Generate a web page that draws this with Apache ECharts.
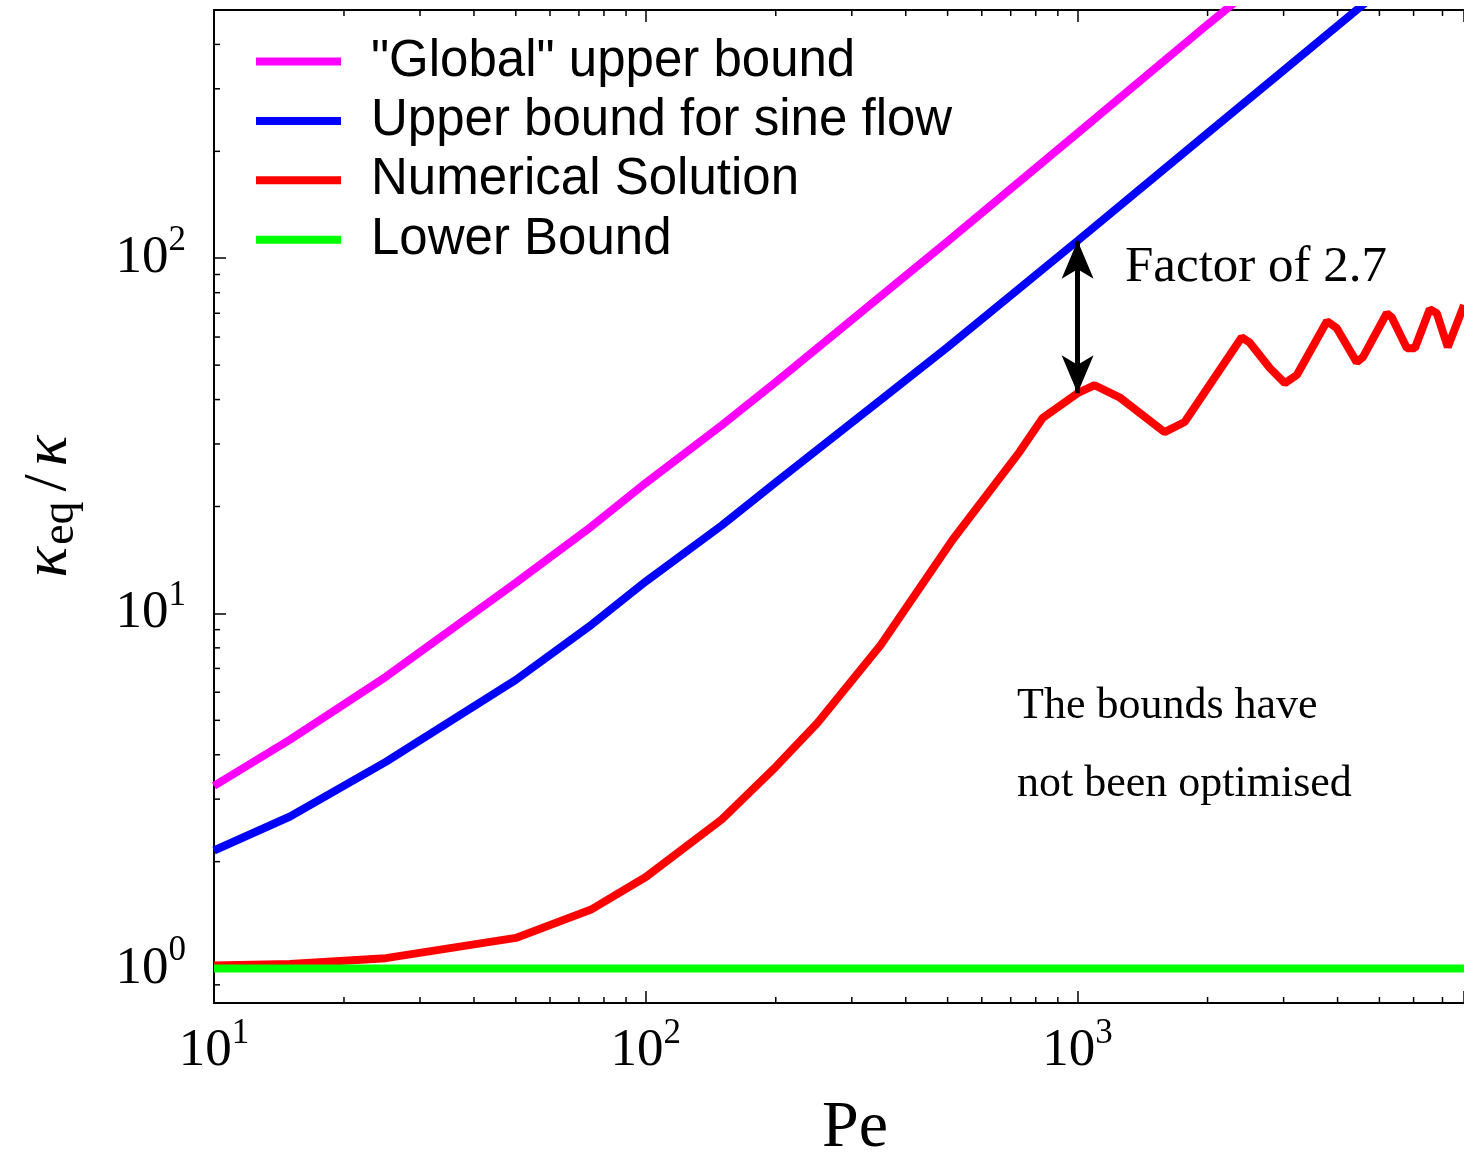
<!DOCTYPE html>
<html>
<head>
<meta charset="utf-8">
<script src="https://cdn.jsdelivr.net/npm/echarts@6/dist/echarts.min.js"></script>
<style>
    body { margin: 0; background: #fff; }
    #boundsChart { width: 1464px; height: 1155px; }
</style>
</head>
<body>
<div id="boundsChart"></div>
<script>
    // Pe values and kappa_eq/kappa
    const boundPe = [10, 15, 25, 50, 75, 100, 150, 200, 350, 500, 1000, 2000, 3000, 5000];
    const globalUpper = [3.27, 4.41, 6.63, 12.2, 17.6, 23.3, 33.9, 44.8, 78.2, 111.6, 225, 455, 680, 1100];
    const sineUpper = [2.15, 2.68, 3.82, 6.50, 9.31, 12.3, 17.7, 23.4, 39.9, 56.2, 112, 225, 338, 565];

    const numPe = [10, 15, 25, 50, 75, 100, 150, 200, 250, 350, 513, 734, 830, 1000, 1095, 1250, 1590, 1770,
        2400, 2500, 2790, 3020, 3220, 3780, 3980, 4430, 4580, 5200, 5340, 5790, 6040, 6540, 6790, 7200, 7850];
    const numerical = [1.02, 1.03, 1.07, 1.22, 1.47, 1.81, 2.63, 3.70, 4.92, 8.15, 16.1, 28.5, 35.5, 41.7, 43.9, 40.6, 32.4, 34.6,
        59.9, 58.0, 49.0, 44.5, 46.9, 66.5, 63.6, 51.0, 52.7, 70.0, 68.2, 55.8, 55.8, 71.9, 70.0, 56.2, 73.8];

    const lowerPe = [10, 7850];
    const lowerBound = [1, 1];

    // arrow marking the gap at Pe = 1000
    const factorPe = 1000;
    const factorTop = 112;
    const factorBottom = 41.7;

    const xRange = [10, 7850];
    const yRange = [0.8, 500];
    const xMinorTicks = [20, 30, 40, 50, 60, 70, 80, 90, 200, 300, 400, 500, 600, 700, 800, 900,
        2000, 3000, 4000, 5000, 6000, 7000];
    const yMinorTicks = [0.9, 2, 3, 4, 5, 6, 7, 8, 9, 20, 30, 40, 50, 60, 70, 80, 90, 200, 300, 400];

    const serif = '"Liberation Serif", "Times New Roman", serif';
    const sans = '"Liberation Sans", Arial, sans-serif';

    function zip(xs, ys) {
        return xs.map((x, i) => [x, ys[i]]);
    }

    let tickData = [];
    xMinorTicks.forEach(v => tickData.push([v, yRange[0], 0]));
    yMinorTicks.forEach(v => tickData.push([xRange[0], v, 1]));

    function powerLabel(value) {
        let e = Math.log10(value);
        let r = Math.round(e);
        if (Math.abs(e - r) > 1e-6) {
            return '';
        }
        return '{b|10}{s|' + r + '}';
    }

    const labelRich = {
        b: {fontFamily: serif, fontSize: 53, lineHeight: 70, color: '#000'},
        s: {fontFamily: serif, fontSize: 35, lineHeight: 34, verticalAlign: 'top', color: '#000'}
    };

    let myChart = echarts.init(document.getElementById('boundsChart'));

    let option = {
        animation: false,
        backgroundColor: '#fff',
        grid: {
            left: 214,
            right: 0,
            top: 10,
            bottom: 152,
            outerBoundsMode: 'none'
        },
        legend: {
            orient: 'vertical',
            left: 251,
            top: 31,
            icon: 'rect',
            itemWidth: 85,
            itemHeight: 8,
            itemGap: 8.4,
            data: ['"Global" upper bound', 'Upper bound for sine flow', 'Numerical Solution', 'Lower Bound'],
            textStyle: {
                fontFamily: sans,
                fontSize: 51,
                lineHeight: 50,
                color: '#000',
                padding: [0, 0, 0, 25]
            }
        },
        xAxis: [{
            type: 'log',
            logBase: 10,
            min: xRange[0],
            max: xRange[1],
            name: 'Pe',
            nameLocation: 'middle',
            nameGap: 93,
            nameTextStyle: {
                fontFamily: serif,
                fontSize: 66,
                color: '#000',
                padding: [0, 0, 0, 32]
            },
            axisLine: {show: true, lineStyle: {color: '#000', width: 2}},
            axisTick: {show: true, inside: true, length: 12, lineStyle: {color: '#000', width: 1.5}},
            axisLabel: {margin: 13, formatter: powerLabel, rich: labelRich},
            splitLine: {show: false}
        }, {
            type: 'log',
            logBase: 10,
            position: 'top',
            min: xRange[0],
            max: xRange[1],
            axisLine: {show: true, lineStyle: {color: '#000', width: 2}},
            axisTick: {show: true, inside: true, length: 12, lineStyle: {color: '#000', width: 1.5}},
            axisLabel: {show: false},
            splitLine: {show: false}
        }],
        yAxis: {
            type: 'log',
            logBase: 10,
            min: yRange[0],
            max: yRange[1],
            name: '{k|κ}{e|eq}{r|/}{k|κ}',
            nameLocation: 'middle',
            nameGap: 130,
            nameRotate: 90,
            nameTextStyle: {
                rich: {
                    k: {fontFamily: serif, fontStyle: 'italic', fontSize: 64, lineHeight: 70, color: '#000'},
                    e: {fontFamily: serif, fontSize: 46, lineHeight: 42, verticalAlign: 'bottom', color: '#000', padding: [0, 0, 0, 2]},
                    r: {fontFamily: serif, fontSize: 62, lineHeight: 70, color: '#000', padding: [0, 8, 0, 10]}
                }
            },
            axisLine: {show: true, lineStyle: {color: '#000', width: 2}},
            axisTick: {show: true, inside: true, length: 12, lineStyle: {color: '#000', width: 1.5}},
            axisLabel: {margin: 28, formatter: powerLabel, rich: labelRich},
            splitLine: {show: false}
        },
        graphic: [{
            type: 'text',
            x: 1125,
            y: 268,
            style: {text: 'Factor of 2.7', font: '51px ' + serif, fill: '#000', align: 'left', verticalAlign: 'middle'}
        }, {
            type: 'text',
            x: 1017,
            y: 706,
            style: {text: 'The bounds have', font: '44px ' + serif, fill: '#000', align: 'left', verticalAlign: 'middle'}
        }, {
            type: 'text',
            x: 1017,
            y: 784,
            style: {text: 'not been optimised', font: '44px ' + serif, fill: '#000', align: 'left', verticalAlign: 'middle'}
        }],
        series: [{
            name: '"Global" upper bound',
            type: 'line',
            data: zip(boundPe, globalUpper),
            showSymbol: false,
            color: '#ff00ff',
            lineStyle: {width: 8}
        }, {
            name: 'Upper bound for sine flow',
            type: 'line',
            data: zip(boundPe, sineUpper),
            showSymbol: false,
            color: '#0000ff',
            lineStyle: {width: 8}
        }, {
            name: 'Numerical Solution',
            type: 'line',
            data: zip(numPe, numerical),
            showSymbol: false,
            color: '#ff0000',
            lineStyle: {width: 8},
            markLine: {
                silent: true,
                symbol: ['arrow', 'arrow'],
                symbolSize: [24, 38],
                label: {show: false},
                lineStyle: {color: '#000', width: 5, type: 'solid'},
                data: [[{coord: [factorPe, factorTop]}, {coord: [factorPe, factorBottom]}]]
            }
        }, {
            name: 'Lower Bound',
            type: 'line',
            data: zip(lowerPe, lowerBound),
            showSymbol: false,
            color: '#00ff00',
            lineStyle: {width: 8}
        }, {
            // minor ticks, 2..9 of each decade
            type: 'custom',
            silent: true,
            data: tickData,
            encode: {x: 0, y: 1},
            renderItem: function (params, api) {
                let pt = api.coord([api.value(0), api.value(1)]);
                let cs = params.coordSys;
                let style = {stroke: '#000', lineWidth: 1.5};
                if (api.value(2) === 0) {
                    return {
                        type: 'group',
                        children: [
                            {type: 'line', shape: {x1: pt[0], y1: cs.y + cs.height, x2: pt[0], y2: cs.y + cs.height - 6}, style: style},
                            {type: 'line', shape: {x1: pt[0], y1: cs.y, x2: pt[0], y2: cs.y + 6}, style: style}
                        ]
                    };
                }
                return {type: 'line', shape: {x1: cs.x, y1: pt[1], x2: cs.x + 6, y2: pt[1]}, style: style};
            }
        }]
    };

    myChart.setOption(option);
</script>
</body>
</html>
